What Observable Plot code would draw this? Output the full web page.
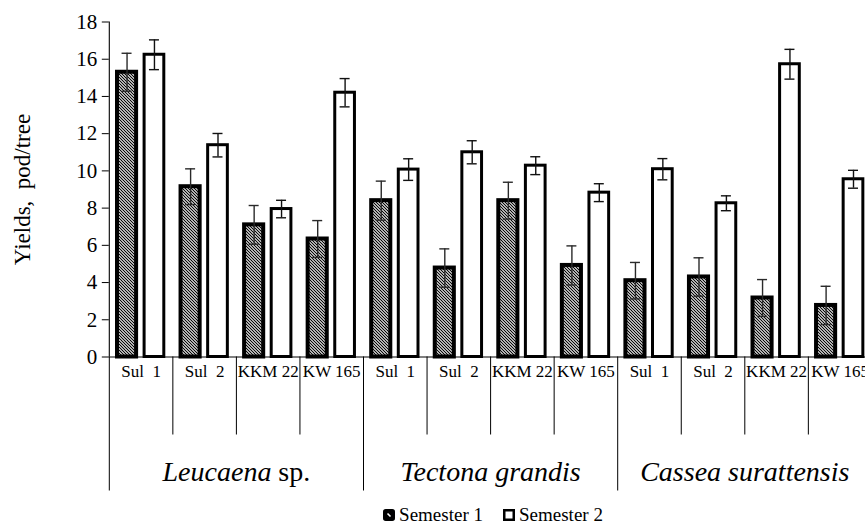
<!DOCTYPE html>
<html>
<head>
<meta charset="utf-8">
<script src="https://cdn.jsdelivr.net/npm/d3@7"></script>
<script src="https://cdn.jsdelivr.net/npm/@observablehq/plot@0.6"></script>
<style>
  html, body { margin: 0; padding: 0; background: #fff; width: 865px; height: 529px; overflow: hidden; position: relative; }
  #chart svg text { white-space: pre; font-family: "Liberation Serif", "Times New Roman", serif; }
  #legend { position: absolute; left: 112px; top: 504px; width: 762px; height: 22px; display: flex; justify-content: center; align-items: center; font-family: "Liberation Serif", "Times New Roman", serif; font-size: 19px; color: #000; }
  #legend .item { display: flex; align-items: center; margin: 0 10px; white-space: pre; }
  #legend svg { margin-right: 4px; }
</style>
</head>
<body>
<div id="chart"></div>
<div id="legend"></div>
<script>
// ---- data ----
const species   = ["Leucaena sp.", "Tectona grandis", "Cassea surattensis"];
const varieties = ["Sul  1", "Sul  2", "KKM 22", "KW 165"];
const semesters = ["Semester 1", "Semester 2"];
const sem1      = [15.3, 9.15, 7.1, 6.34,   8.4, 4.78, 8.4, 4.92,   4.1, 4.3, 3.17, 2.77];
const sem1Err   = [1.02, 0.96, 1.04, 0.99,  1.05, 1.03, 0.99, 1.05, 0.98, 1.03, 0.99, 1.03];
const sem2      = [16.24, 11.38, 7.95, 14.2, 10.07, 11.0, 10.28, 8.83, 10.09, 8.26, 15.73, 9.55];
const sem2Err   = [0.8, 0.63, 0.47, 0.76,   0.58, 0.62, 0.48, 0.48,  0.57, 0.4, 0.8, 0.48];
const yTicks    = [0, 2, 4, 6, 8, 10, 12, 14, 16, 18];
const yLabel    = "Yields,  pod/tree";

// ---- tables built from the arrays ----
const rows = species.flatMap((s, g) => varieties.map((v, k) => {
  const i = g * varieties.length + k;
  return {i, species: s, variety: v, s1: sem1[i], e1: sem1Err[i], s2: sem2[i], e2: sem2Err[i]};
}));
const groups = species.map((s, g) => ({species: s, start: g * varieties.length, end: (g + 1) * varieties.length}));
const bounds = d3.range(0, rows.length + 1).map(i => ({i, outer: i % varieties.length === 0}));

const font = "Liberation Serif";

const hatchDefs = () => {
  const defs = d3.create("svg:defs");
  const p = defs.append("pattern")
    .attr("id", "hatchS1")
    .attr("patternUnits", "userSpaceOnUse")
    .attr("width", 3).attr("height", 3);
  p.append("rect").attr("width", 3).attr("height", 3).attr("fill", "white");
  p.append("path").attr("d", "M-1,-1L4,4M-1,2L1,4M2,-1L4,1")
    .attr("stroke", "black").attr("stroke-width", 1.15);
  return defs.node();
};

const chart = Plot.plot({
  width: 865,
  height: 500,
  marginLeft: 108.8,
  marginRight: 865 - 871.4,
  marginTop: 21.5,
  marginBottom: 143.5,
  x: {type: "linear", domain: [0, rows.length], axis: null},
  y: {domain: [0, 18]},
  style: {fontFamily: font, background: "white", color: "black", overflow: "visible"},
  marks: [
    hatchDefs,
    // bars
    Plot.rectY(rows, {x1: "i", x2: d => d.i + 1, y1: 0, y2: "s1", fill: "url(#hatchS1)",
      stroke: "black", strokeWidth: 4, insetLeft: 8.2, insetRight: 36.25}),
    Plot.rectY(rows, {x1: "i", x2: d => d.i + 1, y1: 0, y2: "s2", fill: "white",
      stroke: "black", strokeWidth: 3, insetLeft: 35.3, insetRight: 8.55}),
    // error bars semester 1
    Plot.ruleX(rows, {x: "i", y1: d => d.s1 - d.e1, y2: d => d.s1 + d.e1, dx: 17.75, stroke: "#2a2a2a", strokeWidth: 1.4}),
    Plot.ruleY(rows, {y: d => d.s1 + d.e1, x1: "i", x2: d => d.i + 1, insetLeft: 12.75, insetRight: 40.8, stroke: "#2a2a2a", strokeWidth: 1.4}),
    Plot.ruleY(rows, {y: d => d.s1 - d.e1, x1: "i", x2: d => d.i + 1, insetLeft: 12.75, insetRight: 40.8, stroke: "#2a2a2a", strokeWidth: 1.4}),
    // error bars semester 2
    Plot.ruleX(rows, {x: "i", y1: d => d.s2 - d.e2, y2: d => d.s2 + d.e2, dx: 45.15, stroke: "#111", strokeWidth: 1.4}),
    Plot.ruleY(rows, {y: d => d.s2 + d.e2, x1: "i", x2: d => d.i + 1, insetLeft: 40.15, insetRight: 13.4, stroke: "#111", strokeWidth: 1.4}),
    Plot.ruleY(rows, {y: d => d.s2 - d.e2, x1: "i", x2: d => d.i + 1, insetLeft: 40.15, insetRight: 13.4, stroke: "#111", strokeWidth: 1.4}),
    // axes lines
    Plot.ruleX([0], {y1: 0, y2: 18, stroke: "black", strokeWidth: 1.1}),
    Plot.ruleY([0], {stroke: "black", strokeWidth: 1.1}),
    // category separators below axis
    Plot.ruleX(bounds.filter(d => !d.outer), {x: "i", y1: 0, y2: 0, insetBottom: -78, stroke: "black", strokeWidth: 1}),
    Plot.ruleX(bounds.filter(d => d.outer), {x: "i", y1: 0, y2: 0, insetBottom: -134, stroke: "black", strokeWidth: 1}),
    // y axis
    Plot.axisY(yTicks, {tickSize: 7, tickPadding: 5, fontSize: 21, fontFamily: font, stroke: "black", fill: "black", label: null}),
    // labels
    Plot.text(rows, {x: d => d.i + 0.5, y: 0, text: "variety", dy: 15, fontSize: 17, fontFamily: font, fill: "black"}),
    Plot.text(groups, {x: d => (d.start + d.end) / 2, y: 0, text: "species", dy: 115, fontSize: 28, fontFamily: font, fontStyle: "italic", fill: "black"}),
    Plot.text([yLabel], {text: d => d, frameAnchor: "left", textAnchor: "middle", rotate: -90, dx: -87, fontSize: 23, fontFamily: font, fill: "black"})
  ]
});

// "sp." is set upright in the reference
d3.select(chart).selectAll("text").each(function () {
  if (this.textContent === "Leucaena sp.") {
    const t = d3.select(this);
    t.text("");
    t.append("tspan").attr("font-style", "italic").text("Leucaena");
    t.append("tspan").attr("font-style", "normal").text(" sp.");
  }
});

document.getElementById("chart").appendChild(chart);

// legend
const legend = d3.select("#legend");
semesters.forEach((s, k) => {
  const item = legend.append("div").attr("class", "item");
  const svg = item.append("svg").attr("width", 12).attr("height", 12);
  svg.append("rect").attr("x", 1.25).attr("y", 1.25).attr("width", 9.5).attr("height", 9.5)
    .attr("rx", k === 0 ? 1.5 : 0)
    .attr("fill", k === 0 ? "black" : "white").attr("stroke", "black").attr("stroke-width", 2.5);
  if (k === 0) svg.append("line").attr("x1", 4.5).attr("y1", 4.5).attr("x2", 7.5).attr("y2", 7.5)
    .attr("stroke", "white").attr("stroke-width", 1.6);
  item.append("span").text(s);
});
</script>
</body>
</html>
